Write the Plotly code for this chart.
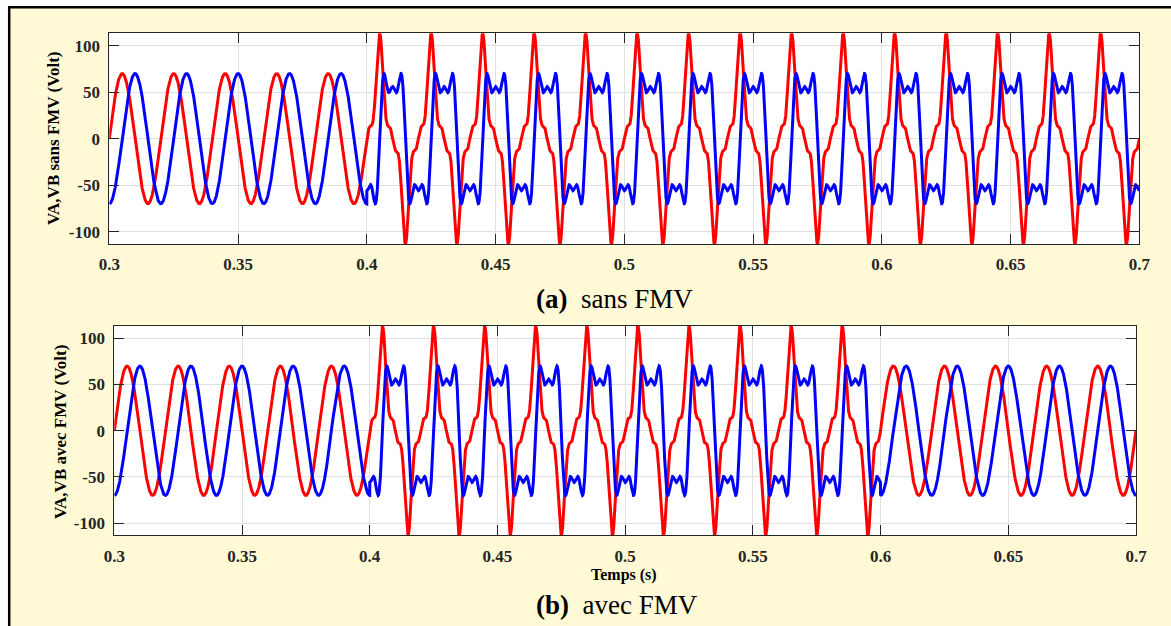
import numpy as np
import plotly.graph_objects as go

# ---------------- values ----------------
W, H = 1171, 626
t_window = [0.3, 0.7]          # time axis (s)
n_samples = 20001
f0 = 50.0                      # fundamental frequency (Hz)
va_sine_amp = 70.0             # VA healthy amplitude (V)
vb_sine_amp = 70.0             # VB healthy amplitude (V)
vb_lag_deg = 90.0              # VB lags VA by 90 deg
harm_orders = [1, 3, 5]        # harmonic orders seen in distorted part
va_harm_amps = [71.0, -28.5, 13.5]   # VA distorted harmonic amplitudes
vb_harm_amps = [70.9, 28.0, 13.1]    # VB distorted harmonic amplitudes
dist_window_a = [0.4, 0.7]     # distortion present (sans FMV)
dist_window_b = [0.4, 0.6]     # distortion present (avec FMV)

x_tick_vals = [0.3, 0.35, 0.4, 0.45, 0.5, 0.55, 0.6, 0.65, 0.7]
x_tick_text = ["0.3", "0.35", "0.4", "0.45", "0.5", "0.55", "0.6", "0.65", "0.7"]
y_tick_vals = [-100, -50, 0, 50, 100]
y_tick_text = ["-100", "-50", "0", "50", "100"]
y_range = [-113.3, 113.3]

y_titles = ["VA,VB sans FMV (Volt)", "VA,VB avec FMV (Volt)"]
captions = ["<b>(a)</b>&nbsp; sans FMV", "<b>(b)</b>&nbsp; avec FMV"]
x_title = "Temps (s)"

RED = "#FF0000"
BLUE = "#0000FF"
CREAM = "#FFFAD5"
AX = "#262626"
GRID = "#E0E0E0"
SERIF = "Liberation Serif, Times New Roman, serif"

# ---------------- signals ----------------
t = np.linspace(t_window[0], t_window[1], n_samples)
theta = 2 * np.pi * f0 * (t - t_window[0])
theta_b = theta - np.deg2rad(vb_lag_deg)

va_sine = va_sine_amp * np.sin(theta)
vb_sine = vb_sine_amp * np.sin(theta_b)
va_dist = sum(a * np.sin(k * theta) for k, a in zip(harm_orders, va_harm_amps))
vb_dist = sum(a * np.sin(k * theta_b) for k, a in zip(harm_orders, vb_harm_amps))


def build(window):
    if window[1] >= t_window[1]:
        m = t > window[0]
    else:
        m = (t > window[0]) & (t < window[1])
    return np.where(m, va_dist, va_sine), np.where(m, vb_dist, vb_sine)


va_a, vb_a = build(dist_window_a)
va_b, vb_b = build(dist_window_b)

fig = go.Figure()
line_w = 3
fig.add_trace(go.Scatter(x=t, y=va_a, mode="lines", line=dict(color=RED, width=line_w),
                         xaxis="x", yaxis="y", showlegend=False))
fig.add_trace(go.Scatter(x=t, y=vb_a, mode="lines", line=dict(color=BLUE, width=line_w),
                         xaxis="x", yaxis="y", showlegend=False))
fig.add_trace(go.Scatter(x=t, y=va_b, mode="lines", line=dict(color=RED, width=line_w),
                         xaxis="x2", yaxis="y2", showlegend=False))
fig.add_trace(go.Scatter(x=t, y=vb_b, mode="lines", line=dict(color=BLUE, width=line_w),
                         xaxis="x2", yaxis="y2", showlegend=False))


def px(x):
    return x / W


def py(y):
    return 1 - y / H


tickfont = dict(family=SERIF, size=17, color=AX, weight="bold")
common_x = dict(range=t_window, tickvals=x_tick_vals, ticktext=x_tick_text,
                showline=True, linecolor=AX, linewidth=1, mirror="allticks",
                ticks="inside", ticklen=10, tickwidth=1, tickcolor=AX,
                showgrid=True, gridcolor=GRID, gridwidth=1, zeroline=False,
                tickfont=tickfont, automargin=False, ticklabelstandoff=5)
common_y = dict(range=y_range, tickvals=y_tick_vals, ticktext=y_tick_text,
                showline=True, linecolor=AX, linewidth=1, mirror="allticks",
                ticks="inside", ticklen=10, tickwidth=1, tickcolor=AX,
                showgrid=True, gridcolor=GRID, gridwidth=1, zeroline=False,
                tickfont=tickfont, automargin=False, ticklabelstandoff=5)

fig.update_layout(
    width=W, height=H,
    margin=dict(l=0, r=0, t=0, b=0),
    paper_bgcolor=CREAM, plot_bgcolor="white",
    xaxis=dict(domain=[px(109.3), px(1139.3)], anchor="y", **common_x),
    yaxis=dict(domain=[py(244), py(33.3)], anchor="x", **common_y),
    xaxis2=dict(domain=[px(114.3), px(1136)], anchor="y2", **common_x),
    yaxis2=dict(domain=[py(535.4), py(326)], anchor="x2", **common_y),
    shapes=[
        dict(type="rect", xref="paper", yref="paper", x0=0, x1=1, y0=py(6), y1=1,
             fillcolor="white", line=dict(width=0), layer="above"),
        dict(type="rect", xref="paper", yref="paper", x0=0, x1=px(8), y0=0, y1=1,
             fillcolor="white", line=dict(width=0), layer="above"),
        dict(type="line", xref="paper", yref="paper", x0=px(8), x1=1, y0=py(7.3), y1=py(7.3),
             line=dict(color="black", width=2.5), layer="above"),
        dict(type="line", xref="paper", yref="paper", x0=px(9.2), x1=px(9.2), y0=0, y1=py(6),
             line=dict(color="black", width=2.5), layer="above"),
    ],
    annotations=[
        dict(text="<b>" + y_titles[0] + "</b>", xref="paper", yref="paper",
             x=px(54), y=py(138), textangle=-90, showarrow=False,
             font=dict(family=SERIF, size=17, color="black"), xanchor="center", yanchor="middle"),
        dict(text="<b>" + y_titles[1] + "</b>", xref="paper", yref="paper",
             x=px(60), y=py(432), textangle=-90, showarrow=False,
             font=dict(family=SERIF, size=17, color="black"), xanchor="center", yanchor="middle"),
        dict(text="<b>" + x_title + "</b>", xref="paper", yref="paper",
             x=px(624), y=py(575), showarrow=False,
             font=dict(family=SERIF, size=16, color="black"), xanchor="center", yanchor="middle"),
        dict(text=captions[0], xref="paper", yref="paper",
             x=px(614), y=py(299), showarrow=False,
             font=dict(family=SERIF, size=27, color="black"), xanchor="center", yanchor="middle"),
        dict(text=captions[1], xref="paper", yref="paper",
             x=px(617), y=py(605), showarrow=False,
             font=dict(family=SERIF, size=27, color="black"), xanchor="center", yanchor="middle"),
    ],
)

fig.write_html("out.html")
